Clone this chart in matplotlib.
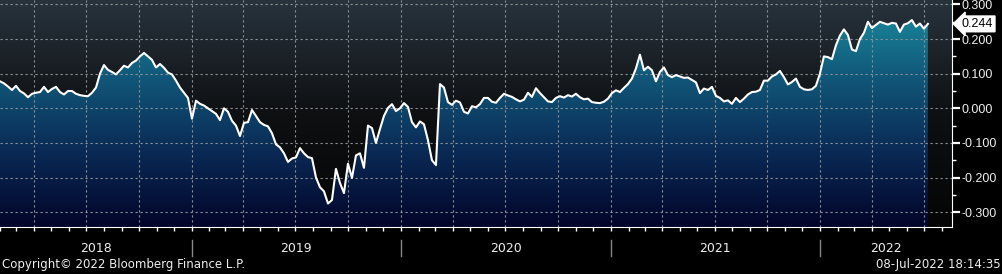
import numpy as np
import pandas as pd
import matplotlib
matplotlib.use('Agg')
import matplotlib.pyplot as plt
import matplotlib.dates as mdates
from matplotlib.colors import LinearSegmentedColormap
from matplotlib.ticker import FixedLocator, FuncFormatter
import matplotlib.transforms as mtransforms

plt.rcParams['axes.unicode_minus'] = False
plt.rcParams['font.family'] = ['DejaVu Sans']

# weekly values, Feb 2018 -> 08 Jul 2022
start = '2018-02-01'
end = '2022-07-08'
valores = [
    0.078, 0.072, 0.063, 0.053, 0.065, 0.050, 0.043, 0.032, 0.042, 0.045,
    0.047, 0.062, 0.047, 0.056, 0.062, 0.047, 0.040, 0.050, 0.050, 0.042,
    0.038, 0.036, 0.035, 0.045, 0.060, 0.100, 0.125, 0.111, 0.105, 0.098,
    0.110, 0.123, 0.118, 0.131, 0.138, 0.150, 0.160, 0.150, 0.140, 0.118,
    0.128, 0.117, 0.103, 0.098, 0.080, 0.060, 0.045, 0.030, -0.030, 0.022,
    0.013, 0.008, 0.000, -0.008, -0.016, -0.034, 0.000, -0.010, -0.036, -0.050,
    -0.080, -0.042, -0.040, -0.005, -0.022, -0.040, -0.048, -0.052, -0.072, -0.104,
    -0.113, -0.130, -0.155, -0.145, -0.142, -0.115, -0.130, -0.141, -0.144, -0.200,
    -0.228, -0.240, -0.275, -0.265, -0.175, -0.216, -0.245, -0.160, -0.201, -0.136,
    -0.130, -0.172, -0.050, -0.057, -0.100, -0.060, -0.022, 0.001, 0.012, -0.008,
    0.000, 0.015, 0.004, -0.040, -0.055, -0.038, -0.046, -0.092, -0.150, -0.164,
    0.070, 0.060, 0.018, 0.010, 0.022, 0.017, -0.010, -0.015, 0.006, 0.003,
    0.012, 0.030, 0.030, 0.019, 0.016, 0.030, 0.042, 0.037, 0.033, 0.026,
    0.020, 0.025, 0.045, 0.033, 0.058, 0.044, 0.032, 0.020, 0.018, 0.030,
    0.035, 0.031, 0.038, 0.034, 0.042, 0.032, 0.026, 0.028, 0.018, 0.016,
    0.015, 0.019, 0.028, 0.044, 0.052, 0.047, 0.059, 0.070, 0.086, 0.115,
    0.155, 0.110, 0.120, 0.110, 0.078, 0.105, 0.118, 0.096, 0.090, 0.096,
    0.092, 0.088, 0.089, 0.082, 0.075, 0.044, 0.057, 0.053, 0.062, 0.036,
    0.030, 0.020, 0.023, 0.013, 0.030, 0.018, 0.028, 0.040, 0.047, 0.048,
    0.053, 0.080, 0.080, 0.092, 0.098, 0.108, 0.090, 0.069, 0.076, 0.086,
    0.062, 0.055, 0.053, 0.055, 0.065, 0.100, 0.150, 0.148, 0.142, 0.182,
    0.210, 0.228, 0.212, 0.170, 0.165, 0.200, 0.218, 0.250, 0.232, 0.241,
    0.250, 0.246, 0.242, 0.247, 0.245, 0.221, 0.242, 0.246, 0.255, 0.236,
    0.245, 0.230, 0.244,
]
anos = [2018, 2019, 2020, 2021, 2022]
yticks = [-0.3, -0.2, -0.1, 0.0, 0.1, 0.2, 0.3]

datas = pd.date_range(start, end, periods=len(valores))
x = mdates.date2num(datas)
y = np.array(valores)

xmin = mdates.date2num(pd.Timestamp('2018-02-01'))
xmax = mdates.date2num(pd.Timestamp('2022-08-19'))
ymin, ymax = -0.343, 0.313

fig = plt.figure(figsize=(10.03, 2.74), dpi=100, facecolor='black')
ax = fig.add_axes([0, 47 / 274, 952 / 1003, 227 / 274])
ax.set_xlim(xmin, xmax)
ax.set_ylim(ymin, ymax)

# fundo em degrade
fundo = LinearSegmentedColormap.from_list('fundo', ['#050505', '#0e1012', '#28333d'])
grad = np.linspace(0, 1, 256).reshape(-1, 1)
ax.imshow(grad, extent=[xmin, xmax, ymin, ymax], aspect='auto', cmap=fundo,
          origin='lower', zorder=0)

# area sob a linha em degrade
area = LinearSegmentedColormap.from_list('area', ['#02052a', '#0a2a55', '#11587a', '#1a90a0'])
poly = ax.fill_between(x, y, ymin, color='none', lw=0, zorder=1)
im = ax.imshow(grad, extent=[xmin, xmax, ymin, ymax], aspect='auto', cmap=area,
               origin='lower', zorder=1)
im.set_clip_path(poly.get_paths()[0], transform=ax.transData)

ax.plot(x, y, color='white', lw=1.5, zorder=3)

# grade
for v in yticks:
    ax.axhline(v, color='#8c9196', lw=0.8, ls=(0, (2, 2.5)), zorder=2)
for d in pd.date_range('2018-04-01', '2022-07-01', freq='QS'):
    ax.axvline(mdates.date2num(d), color='#8c9196', lw=0.8, ls=(0, (2, 2.5)), zorder=2)

for s in ['top', 'left']:
    ax.spines[s].set_visible(False)
ax.spines['right'].set_color('white')
ax.spines['bottom'].set_color('white')

ax.yaxis.tick_right()
ax.yaxis.set_major_locator(FixedLocator(yticks))
ax.yaxis.set_minor_locator(FixedLocator([-0.25, -0.15, -0.05, 0.05, 0.15, 0.25]))
ax.yaxis.set_major_formatter(FuncFormatter(lambda v, p: f'{v:.3f}'))
ax.tick_params(axis='y', which='major', direction='out', length=6, width=1.6,
               color='white', labelcolor='#eeeeee', labelsize=9, pad=1)
ax.tick_params(axis='y', which='minor', direction='out', length=3, width=1,
               color='white')
for lab in ax.get_yticklabels():
    lab.set_family('Liberation Sans')

ax.xaxis.set_major_locator(mdates.MonthLocator())
ax.xaxis.set_major_formatter(plt.NullFormatter())
ax.tick_params(axis='x', which='major', direction='out', length=3, width=1,
               color='white')

# anos e separadores
trans = mtransforms.blended_transform_factory(ax.transData, ax.transAxes)
for ano in anos:
    a = max(mdates.date2num(pd.Timestamp(f'{ano}-01-01')), xmin)
    b = min(mdates.date2num(pd.Timestamp(f'{ano + 1}-01-01')), xmax)
    ax.text((a + b) / 2, -0.093, str(ano), transform=trans, ha='center',
            va='center', color='#eeeeee', fontsize=9)
    if ano > 2018:
        ax.plot([a, a], [-0.057, -0.128], transform=trans, color='#888888',
                lw=1, clip_on=False)

# valor atual
ax.annotate(f'{valores[-1]:.3f}', xy=(1.0, valores[-1]),
            xycoords=('axes fraction', 'data'), xytext=(7, 0),
            textcoords='offset points', va='center', ha='left', fontsize=9,
            family='Liberation Sans', color='black',
            bbox=dict(boxstyle='larrow,pad=0.15', fc='white', ec='white'))

fig.text(0.002, 0.033, 'Copyright© 2022 Bloomberg Finance L.P.', color='#eeeeee',
         fontsize=8.5, va='center', ha='left')
fig.text(0.998, 0.033, '08-Jul-2022 18:14:35', color='#eeeeee',
         fontsize=8.5, va='center', ha='right')

fig.savefig('out.png', dpi=100, facecolor='black')
